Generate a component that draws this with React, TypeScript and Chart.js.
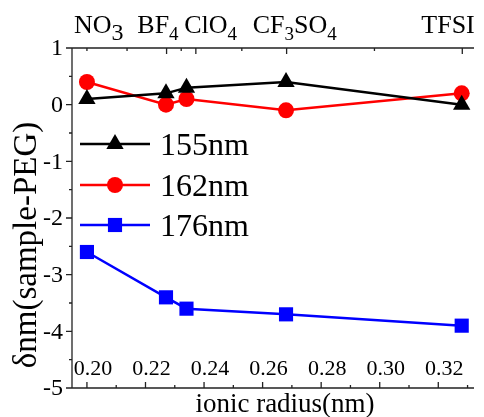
import React, { useEffect, useRef } from 'react';
import { Chart, registerables } from 'chart.js';
import { drawPoint } from 'chart.js/helpers';

Chart.register(...registerables);

// ---- data ----
const ionicRadius = [0.2, 0.227, 0.234, 0.268, 0.328];
const series155 = [0.1, 0.2, 0.3, 0.4, 0.0];
const series162 = [0.4, 0.0, 0.1, -0.1, 0.2];
const series176 = [-2.6, -3.4, -3.6, -3.7, -3.9];
const seriesNames = ['155nm', '162nm', '176nm'];

const xTickValues = [0.2, 0.22, 0.24, 0.26, 0.28, 0.3, 0.32];
const xTickLabels = ['0.20', '0.22', '0.24', '0.26', '0.28', '0.30', '0.32'];
const xMinorTicks = [0.21, 0.23, 0.25, 0.27, 0.29, 0.31, 0.33];
const yTickValues = [1, 0, -1, -2, -3, -4, -5];
const yTickLabels = ['1', '0', '-1', '-2', '-3', '-4', '-5'];
const yMinorTicks = [0.5, -0.5, -1.5, -2.5, -3.5, -4.5];
const topMajorTicks = [0.2272, 0.2372, 0.2682, 0.3282];
const topMinorTicks = [0.2, 0.2137, 0.2322, 0.2529, 0.2982];

// anion labels: [text, kind] parts; kind 0 = normal, 1 = small subscript, 2 = large subscript
const anionLabels: [string, number][][] = [
  [['NO', 0], ['3', 2]],
  [['BF', 0], ['4', 1]],
  [['ClO', 0], ['4', 1]],
  [['CF', 0], ['3', 1], ['SO', 0], ['4', 1]],
  [['TFSI', 0]],
];
const anionAnchors = [0.1956, 0.2172, 0.2332, 0.2566, 0.3142];

const X_MIN = 0.1949;
const X_MAX = 0.3322;
const Y_MIN = -5;
const Y_MAX = 1;

const FONT = '"Liberation Serif", "Times New Roman", serif';

const colors = ['#000000', '#ff0000', '#0000ff'];
const styles = ['triangle', 'circle', 'rect'];
const radii = [10, 8, 10];

const decorPlugin = {
  id: 'decor',
  afterDraw(chart: any) {
    const ctx: CanvasRenderingContext2D = chart.ctx;
    const xs = chart.scales.x;
    const ys = chart.scales.y;
    const { left, right, top, bottom } = chart.chartArea;
    ctx.save();
    ctx.strokeStyle = '#222';
    ctx.fillStyle = '#000';
    ctx.lineWidth = 1.3;

    // axes lines
    ctx.beginPath();
    ctx.moveTo(left, top);
    ctx.lineTo(left, bottom);
    ctx.moveTo(left, bottom);
    ctx.lineTo(right, bottom);
    ctx.moveTo(left, top);
    ctx.lineTo(right, top);
    ctx.stroke();

    // y ticks
    ctx.beginPath();
    yTickValues.forEach((v) => {
      const y = ys.getPixelForValue(v);
      ctx.moveTo(left - 6, y);
      ctx.lineTo(left, y);
    });
    yMinorTicks.forEach((v) => {
      const y = ys.getPixelForValue(v);
      ctx.moveTo(left - 3, y);
      ctx.lineTo(left, y);
    });
    // bottom ticks (inward)
    xTickValues.forEach((v) => {
      const x = xs.getPixelForValue(v);
      ctx.moveTo(x, bottom);
      ctx.lineTo(x, bottom - 6);
    });
    xMinorTicks.forEach((v) => {
      const x = xs.getPixelForValue(v);
      ctx.moveTo(x, bottom);
      ctx.lineTo(x, bottom - 3);
    });
    // top ticks (inward)
    topMajorTicks.forEach((v) => {
      const x = xs.getPixelForValue(v);
      ctx.moveTo(x, top);
      ctx.lineTo(x, top + 6);
    });
    topMinorTicks.forEach((v) => {
      const x = xs.getPixelForValue(v);
      ctx.moveTo(x, top);
      ctx.lineTo(x, top + 3);
    });
    ctx.stroke();

    // y tick labels
    ctx.font = `24px ${FONT}`;
    ctx.textAlign = 'right';
    ctx.textBaseline = 'middle';
    yTickValues.forEach((v, i) => {
      ctx.fillText(yTickLabels[i], left - 9, ys.getPixelForValue(v) + 1);
    });

    // x tick labels (inside plot)
    ctx.font = `22px ${FONT}`;
    ctx.textAlign = 'center';
    ctx.textBaseline = 'alphabetic';
    xTickValues.forEach((v, i) => {
      ctx.fillText(xTickLabels[i], xs.getPixelForValue(v) + 6, bottom - 13);
    });

    // x title
    ctx.font = `27px ${FONT}`;
    ctx.fillText('ionic radius(nm)', (left + right) / 2 + 12, bottom + 24);

    // y title
    ctx.save();
    ctx.translate(27, (top + bottom) / 2 + 27);
    ctx.rotate(-Math.PI / 2);
    ctx.font = `33px ${FONT}`;
    ctx.textAlign = 'center';
    ctx.textBaseline = 'middle';
    ctx.fillText('\u03b4nm(sample-PEG)', 0, 0);
    ctx.restore();

    // anion labels on top
    ctx.textAlign = 'left';
    ctx.textBaseline = 'alphabetic';
    anionLabels.forEach((parts, i) => {
      let x = xs.getPixelForValue(anionAnchors[i]);
      parts.forEach(([t, kind]) => {
        ctx.font = kind === 0 ? `26px ${FONT}` : kind === 1 ? `19px ${FONT}` : `24px ${FONT}`;
        const yb = kind === 0 ? top - 15 : top - 8;
        ctx.fillText(t, x, yb);
        x += ctx.measureText(t).width;
      });
    });

    // legend
    const rows = [144, 185, 225];
    rows.forEach((ry, i) => {
      ctx.strokeStyle = colors[i];
      ctx.fillStyle = colors[i];
      ctx.lineWidth = 2.5;
      ctx.beginPath();
      ctx.moveTo(80, ry);
      ctx.lineTo(150, ry);
      ctx.stroke();
      drawPoint(ctx, { pointStyle: styles[i] as any, radius: radii[i], rotation: 0, borderWidth: 0 }, 115, ry);
      ctx.fillStyle = '#000';
      ctx.font = `32px ${FONT}`;
      ctx.textBaseline = 'alphabetic';
      ctx.fillText(seriesNames[i], 160, ry + 11);
    });

    ctx.restore();
  },
};

export default function App() {
  const ref = useRef<HTMLCanvasElement>(null);
  useEffect(() => {
    if (!ref.current) return;
    const allSeries = [series155, series162, series176];
    const chart = new Chart(ref.current, {
      type: 'line',
      data: {
        datasets: allSeries.map((s, i) => ({
          label: seriesNames[i],
          data: s.map((v, j) => ({ x: ionicRadius[j], y: v })),
          borderColor: colors[i],
          backgroundColor: colors[i],
          borderWidth: 2.5,
          pointStyle: styles[i] as any,
          pointRadius: radii[i],
          pointBorderWidth: 0,
          pointBackgroundColor: colors[i],
          tension: 0,
          clip: false as any,
        })),
      },
      options: {
        responsive: false,
        animation: false,
        layout: { padding: { left: 72, right: 0, top: 48, bottom: 29 } },
        plugins: { legend: { display: false }, tooltip: { enabled: false } },
        scales: {
          x: { type: 'linear', min: X_MIN, max: X_MAX, display: false },
          y: { type: 'linear', min: Y_MIN, max: Y_MAX, display: false },
        },
      },
      plugins: [decorPlugin],
    });
    return () => chart.destroy();
  }, []);
  return (
    <div style={{ position: 'fixed', left: 0, top: 0, width: 484, height: 417, background: '#fff' }}>
      <canvas ref={ref} width={484} height={417} style={{ display: 'block' }} />
    </div>
  );
}
